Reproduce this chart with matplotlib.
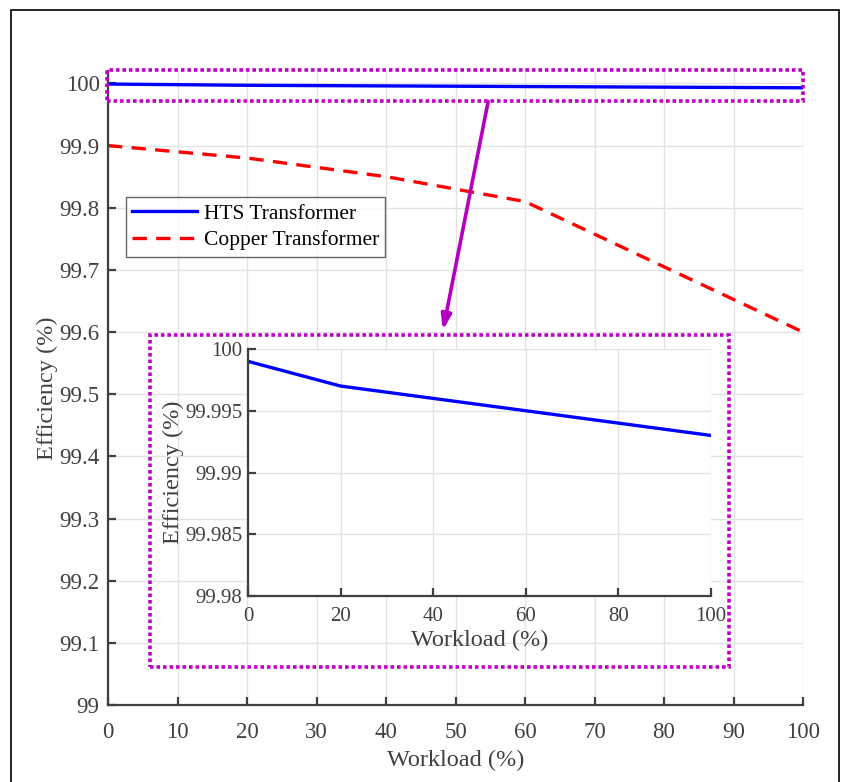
import numpy as np
import matplotlib.pyplot as plt
from matplotlib.patches import Rectangle

plt.rcParams['font.family'] = ['Liberation Serif', 'DejaVu Serif']

# data
workload = [0, 20, 40, 60, 80, 100]
eff_hts = [99.999, 99.997, 99.996, 99.995, 99.994, 99.993]
eff_copper = [99.90, 99.88, 99.85, 99.81, 99.705, 99.60]

main_xticks = np.arange(0, 101, 10)
main_yticks = np.round(np.arange(99, 100.01, 0.1), 1)
inset_xticks = np.arange(0, 101, 20)
inset_yticks = [99.98, 99.985, 99.99, 99.995, 100]

gray = '#404040'
magenta = '#c000c8'

fig = plt.figure(figsize=(8.48, 7.82), dpi=100)

# outer frame
fig.add_artist(Rectangle((11 / 848, -0.01), 828 / 848, 1 - 10 / 782 + 0.01,
                         transform=fig.transFigure, fill=False,
                         edgecolor='black', lw=1.2))


def style_axes(a, tick_size, xpad, ypad):
    for s in ['top', 'right']:
        a.spines[s].set_visible(False)
    for s in ['left', 'bottom']:
        a.spines[s].set_color(gray)
        a.spines[s].set_linewidth(1.6)
    a.tick_params(direction='in', length=6, width=1.6, colors=gray,
                  labelsize=tick_size)
    a.tick_params(axis='x', pad=xpad)
    a.tick_params(axis='y', pad=ypad)
    a.grid(True, color='#e3e3e3', lw=1.0)
    a.set_axisbelow(True)


ax = fig.add_axes([108 / 848, 77 / 782, 695 / 848, 634 / 782])
ax.plot(workload, eff_hts, color='#0000ff', lw=2.4, label='HTS Transformer')
ax.plot(workload, eff_copper, color='#ff0000', lw=2.4, dashes=(4.3, 2.8),
        label='Copper Transformer')
ax.set_xlim(0, 100)
ax.set_ylim(99, 100.02)
ax.set_xticks(main_xticks)
ax.set_yticks(main_yticks)
ax.set_yticklabels(['99' if v == 99 else '100' if v == 100 else f'{v:.1f}' for v in main_yticks])
style_axes(ax, 16.5, 12, 6)
ax.set_xlabel('Workload (%)', fontsize=17.5, color=gray, labelpad=5)
ax.set_ylabel('Efficiency (%)', fontsize=17.5, color=gray, labelpad=1)

leg = ax.legend(loc='upper left', bbox_to_anchor=(126 / 848, 1 - 197 / 782),
                bbox_transform=fig.transFigure, fontsize=15.5, frameon=True,
                fancybox=False, handlelength=3.0, handletextpad=0.3,
                borderpad=0.3, labelspacing=0.3, borderaxespad=0)
leg.get_frame().set_edgecolor(gray)
leg.get_frame().set_linewidth(1.0)

# zoom boxes and arrow
ax.add_patch(Rectangle((-0.1, 99.971), 100.1, 0.05, fill=False, edgecolor=magenta,
                       lw=2.6, linestyle=(0, (1, 0.8)), clip_on=False, zorder=5))
ax.add_patch(Rectangle((6.0, 99.061), 83.4, 0.535, fill=False, edgecolor=magenta,
                       lw=2.6, linestyle=(0, (1, 0.8)), clip_on=False, zorder=5))
ax.annotate('', xy=(48.2, 99.603), xytext=(54.7, 99.971),
            arrowprops=dict(arrowstyle='-|>,head_length=0.9,head_width=0.3',
                            color='#b400c0', lw=2.6, shrinkA=0, shrinkB=0),
            zorder=6)

# inset
axin = fig.add_axes([248 / 848, 186 / 782, 463 / 848, 247 / 782])
axin.plot(workload, eff_hts, color='#0000ff', lw=2.4)
axin.set_xlim(0, 100)
axin.set_ylim(99.98, 100)
axin.set_xticks(inset_xticks)
axin.set_yticks(inset_yticks)
axin.set_yticklabels(['99.98', '99.985', '99.99', '99.995', '100'])
style_axes(axin, 15, 8, 4)
axin.set_xlabel('Workload (%)', fontsize=17.5, color=gray, labelpad=3)
axin.set_ylabel('Efficiency (%)', fontsize=17.5, color=gray, labelpad=1)

fig.savefig('out.png', dpi=100)
